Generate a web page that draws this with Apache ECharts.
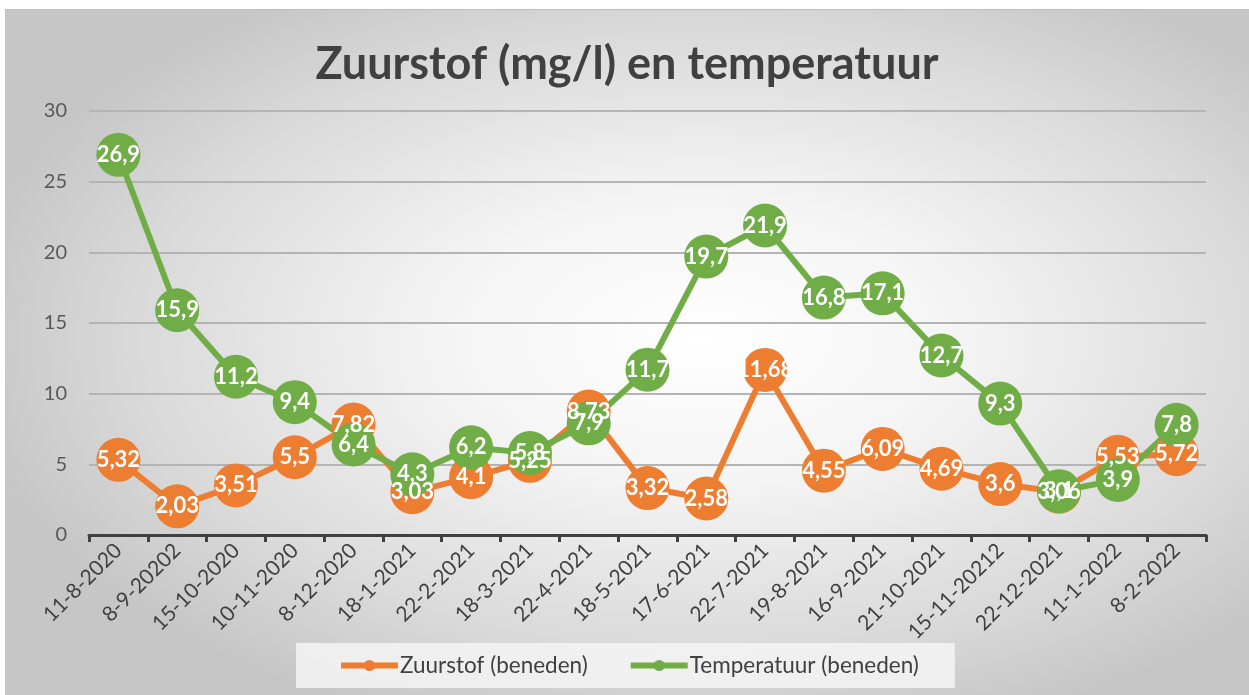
<!DOCTYPE html>
<html>
<head>
<meta charset="utf-8">
<script src="https://cdn.jsdelivr.net/npm/echarts@6/dist/echarts.min.js"></script>
<style>
  html, body { margin: 0; padding: 0; background: #fff; }
  #chart {
    position: absolute; left: 5px; top: 9px; width: 1244px; height: 686px;
    border-top: 1px solid #bdbdbd;
    background: radial-gradient(ellipse 60% 60% at 56% 48%, #ffffff 0%, #f4f4f4 35%, #dadada 75%, #c6c6c6 100%);
  }
</style>
</head>
<body>
<div id="chart"></div>
<script>
// categorieen (datums zoals in het origineel)
const dates = ['11-8-2020', '8-9-20202', '15-10-2020', '10-11-2020', '8-12-2020', '18-1-2021', '22-2-2021',
  '18-3-2021', '22-4-2021', '18-5-2021', '17-6-2021', '22-7-2021', '19-8-2021', '16-9-2021', '21-10-2021',
  '15-11-20212', '22-12-2021', '11-1-2022', '8-2-2022'];
const zuurstof = [5.32, 2.03, 3.51, 5.5, 7.82, 3.03, 4.1, 5.25, 8.73, 3.32, 2.58, 11.68, 4.55, 6.09, 4.69, 3.6, 3.06, 5.53, 5.72];
const temperatuur = [26.9, 15.9, 11.2, 9.4, 6.4, 4.3, 6.2, 5.8, 7.9, 11.7, 19.7, 21.9, 16.8, 17.1, 12.7, 9.3, 3.1, 3.9, 7.8];

const chart = echarts.init(document.getElementById('chart'));
const labelFont = "Lato, 'Open Sans', sans-serif";

const comma = (p) => String(p.value).replace('.', ',');

const makeSeries = (name, data, color) => ({
  name: name,
  type: 'line',
  data: data,
  symbol: 'circle',
  symbolSize: 44,
  lineStyle: { width: 6, color: color },
  itemStyle: { color: color },
  label: {
    show: true,
    position: 'inside',
    formatter: comma,
    color: '#ffffff',
    fontSize: 22,
    fontWeight: 'bold',
    fontFamily: labelFont
  },
  emphasis: { disabled: true },
  animation: false
});

const option = {
  title: {
    text: 'Zuurstof (mg/l) en temperatuur',
    left: 'center',
    top: 27,
    textStyle: { fontSize: 45, fontWeight: 'bold', color: '#404040', fontFamily: labelFont }
  },
  grid: { left: 84, right: 43, top: 101, bottom: 161 },
  legend: {
    top: 633,
    left: 291,
    padding: [11, 36, 11, 42],
    backgroundColor: 'rgba(245,245,245,0.85)',
    itemWidth: 57,
    itemHeight: 14,
    itemGap: 40,
    lineStyle: { width: 6 },
    textStyle: { fontSize: 22.5, color: '#404040', fontFamily: labelFont, padding: [0, 0, 0, -3] },
    data: ['Zuurstof (beneden)', 'Temperatuur (beneden)']
  },
  xAxis: {
    type: 'category',
    data: dates,
    boundaryGap: true,
    axisLine: { lineStyle: { color: '#404040', width: 3 } },
    axisTick: { show: true, length: 7, lineStyle: { color: '#404040', width: 3 } },
    axisLabel: { rotate: 45, interval: 0, margin: 12, fontSize: 21, color: '#404040', fontFamily: labelFont }
  },
  yAxis: {
    type: 'value',
    min: 0,
    max: 30,
    interval: 5,
    axisLine: { show: false },
    axisTick: { show: false },
    axisLabel: { margin: 22, fontSize: 20, color: '#595959', fontFamily: labelFont },
    splitLine: { lineStyle: { color: '#b4b4b4', width: 2 } }
  },
  series: [
    makeSeries('Zuurstof (beneden)', zuurstof, '#ED7D31'),
    makeSeries('Temperatuur (beneden)', temperatuur, '#70AD47')
  ]
};

chart.setOption(option);
</script>
</body>
</html>
